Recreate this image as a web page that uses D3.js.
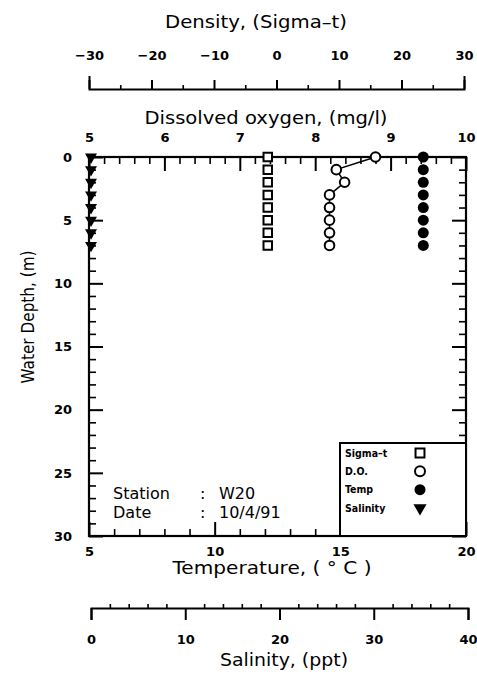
<!DOCTYPE html>
<html>
<head>
<meta charset="utf-8">
<script src="https://cdn.jsdelivr.net/npm/d3@7"></script>
<style>
  html, body { margin: 0; padding: 0; background: #fff; }
  svg { display: block; }
  text { font-family: "DejaVu Sans", sans-serif; fill: #000; }
  .tick text { font-family: "DejaVu Sans", sans-serif; font-weight: bold; font-size: 13px; fill: #000; }
  .tick line, .domain { stroke: #000; }
</style>
</head>
<body>
<script>
// ---- data ----
const depth            = [0, 1, 2, 3, 4, 5, 6, 7];
const sigmaT           = [-1.4, -1.4, -1.4, -1.4, -1.4, -1.4, -1.4, -1.4];
const dissolvedOxygen  = [8.80, 8.28, 8.39, 8.19, 8.19, 8.19, 8.19, 8.19];
const temperature      = [18.3, 18.3, 18.3, 18.3, 18.3, 18.3, 18.3, 18.3];
const salinity         = [0, 0, 0, 0, 0, 0, 0, 0];

const depthTicks   = [0, 5, 10, 15, 20, 25, 30];
const doTicks      = [5, 6, 7, 8, 9, 10];
const tempTicks    = [5, 10, 15, 20];
const sigmaTicks   = [-30, -20, -10, 0, 10, 20, 30];
const salTicks     = [0, 10, 20, 30, 40];
const legendLabels = ["Sigma-t", "D.O.", "Temp", "Salinity"];
const station = "W20";
const dateStr = "10/4/91";

// ---- layout ----
const W = 477, H = 677;
const L = 89, R = 466, T = 157, B = 536;

const svg = d3.select("body").append("svg").attr("width", W).attr("height", H);

const y     = d3.scaleLinear().domain([0, 30]).range([T, B]);
const xDO   = d3.scaleLinear().domain([5, 10]).range([L, R]);
const xT    = d3.scaleLinear().domain([5, 20]).range([L, R]);
const xSig  = d3.scaleLinear().domain([-30, 30]).range([L, R - 2]);
const xSal  = d3.scaleLinear().domain([0, 40]).range([L + 2, R + 2]);

function styleAxis(g, w) {
  g.selectAll(".tick line").attr("stroke-width", w);
  g.selectAll(".domain").attr("stroke-width", 2).attr("fill", "none");
}

// ---- plot frame axes ----
// top (dissolved oxygen)
const gTop = svg.append("g").attr("transform", `translate(0,${T})`);
gTop.call(d3.axisTop(xDO).tickValues(doTicks).tickSize(-14).tickSizeOuter(0).tickPadding(15).tickFormat(d3.format("d")));
gTop.select(".domain").remove();
styleAxis(gTop, 2);
const gTopMin = svg.append("g").attr("transform", `translate(0,${T})`);
gTopMin.call(d3.axisTop(xDO).tickValues(d3.range(5, 10.001, 0.2).filter(v => Math.abs(v - Math.round(v)) > 0.01)).tickSize(-7).tickFormat(""));
gTopMin.select(".domain").remove();
styleAxis(gTopMin, 1.6);

// left (depth)
const gLeft = svg.append("g").attr("transform", `translate(${L},0)`);
gLeft.call(d3.axisLeft(y).tickValues(depthTicks).tickSize(-14).tickPadding(17).tickFormat(d3.format("d")));
gLeft.select(".domain").remove();
styleAxis(gLeft, 2);
const gLeftMin = svg.append("g").attr("transform", `translate(${L},0)`);
gLeftMin.call(d3.axisLeft(y).tickValues(d3.range(0, 31).filter(v => v % 5)).tickSize(-7).tickFormat(""));
gLeftMin.select(".domain").remove();
styleAxis(gLeftMin, 1.6);

// right
const gRight = svg.append("g").attr("transform", `translate(${R},0)`);
gRight.call(d3.axisRight(y).tickValues(depthTicks).tickSize(-14).tickFormat(""));
gRight.select(".domain").remove();
styleAxis(gRight, 2);
const gRightMin = svg.append("g").attr("transform", `translate(${R},0)`);
gRightMin.call(d3.axisRight(y).tickValues(d3.range(0, 31).filter(v => v % 5)).tickSize(-7).tickFormat(""));
gRightMin.select(".domain").remove();
styleAxis(gRightMin, 1.6);

// bottom (temperature)
const gBot = svg.append("g").attr("transform", `translate(0,${B})`);
gBot.call(d3.axisBottom(xT).tickValues(tempTicks).tickSize(-14).tickPadding(11).tickFormat(d3.format("d")));
gBot.select(".domain").remove();
styleAxis(gBot, 2);
const gBotMin = svg.append("g").attr("transform", `translate(0,${B})`);
gBotMin.call(d3.axisBottom(xT).tickValues(d3.range(5, 21).filter(v => v % 5)).tickSize(-7).tickFormat(""));
gBotMin.select(".domain").remove();
styleAxis(gBotMin, 1.6);

// frame
svg.append("rect").attr("x", L).attr("y", T).attr("width", R - L).attr("height", B - T)
  .attr("fill", "none").attr("stroke", "#000").attr("stroke-width", 2.2);

// ---- density axis (top, detached) ----
const gSig = svg.append("g").attr("transform", `translate(0,89)`);
gSig.call(d3.axisTop(xSig).tickValues(sigmaTicks).tickSize(9).tickSizeOuter(13).tickPadding(20).tickFormat(d3.format("d")));
styleAxis(gSig, 2);
const gSigMin = svg.append("g").attr("transform", `translate(0,89)`);
gSigMin.call(d3.axisTop(xSig).tickValues([-25, -15, -5, 5, 15, 25]).tickSize(4).tickFormat(""));
gSigMin.select(".domain").remove();
styleAxis(gSigMin, 1.6);

// ---- salinity axis (bottom, detached) ----
const gSal = svg.append("g").attr("transform", `translate(0,608)`);
gSal.call(d3.axisBottom(xSal).tickValues(salTicks).tickSize(12).tickSizeOuter(12).tickPadding(15).tickFormat(d3.format("d")));
styleAxis(gSal, 2);
const gSalMin = svg.append("g").attr("transform", `translate(0,608)`);
gSalMin.call(d3.axisTop(xSal).tickValues(d3.range(2, 40, 2).filter(v => v % 10)).tickSize(4).tickFormat(""));
gSalMin.select(".domain").remove();
styleAxis(gSalMin, 1.6);

// ---- titles ----
function title(txt, x, yy, len, rot) {
  const t = svg.append("text").attr("text-anchor", "middle").attr("font-size", 17)
    .attr("textLength", len).attr("lengthAdjust", "spacingAndGlyphs").text(txt);
  if (rot) t.attr("transform", `translate(${x},${yy}) rotate(-90)`);
  else t.attr("x", x).attr("y", yy);
}
title("Density, (Sigma\u2013t)", 256, 28, 182);
title("Dissolved oxygen, (mg/l)", 266, 124, 243);
title("Temperature, ( \u00b0 C )", 272, 574, 199);
title("Salinity, (ppt)", 284, 666, 128);
title("Water Depth, (m)", 34, 317, 133, true);

// ---- data marks ----
const rows = depth.map((d, i) => ({ d, s: sigmaT[i], o: dissolvedOxygen[i], t: temperature[i], sal: salinity[i] }));

// D.O. line
svg.append("path").datum(rows)
  .attr("d", d3.line().x(r => xDO(r.o)).y(r => y(r.d)))
  .attr("fill", "none").attr("stroke", "#000").attr("stroke-width", 1.5);

const sq = d3.symbol().type(d3.symbolSquare).size(72);
const tri = d3.symbol().type(d3.symbolTriangle).size(62);

svg.append("g").selectAll("path").data(rows).join("path")
  .attr("transform", r => `translate(${xSig(r.s)},${y(r.d)})`)
  .attr("d", sq).attr("fill", "#fff").attr("stroke", "#000").attr("stroke-width", 2);

svg.append("g").selectAll("circle").data(rows).join("circle")
  .attr("cx", r => xDO(r.o)).attr("cy", r => y(r.d)).attr("r", 4.8)
  .attr("fill", "#fff").attr("stroke", "#000").attr("stroke-width", 2);

svg.append("g").selectAll("circle").data(rows).join("circle")
  .attr("cx", r => xT(r.t)).attr("cy", r => y(r.d)).attr("r", 5.5)
  .attr("fill", "#000");

svg.append("g").selectAll("path").data(rows).join("path")
  .attr("transform", r => `translate(${xSal(r.sal)},${y(r.d)}) rotate(180)`)
  .attr("d", tri).attr("fill", "#000");

// ---- legend ----
const lg = svg.append("g");
lg.append("rect").attr("x", 340).attr("y", 443).attr("width", R - 340).attr("height", B - 443)
  .attr("fill", "#fff").attr("stroke", "#000").attr("stroke-width", 2);
const ly = d3.scalePoint().domain(legendLabels).range([453, 508]);
lg.selectAll("text").data(legendLabels).join("text")
  .attr("x", 345).attr("y", d => ly(d)).attr("dy", "0.35em")
  .attr("font-size", 10.5).attr("font-weight", "bold")
  .style("font-family", "'DejaVu Sans Condensed', 'DejaVu Sans', sans-serif")
  .text(d => d.replace("-", "\u2013"));
lg.append("path").attr("transform", `translate(420,${ly("Sigma-t")})`).attr("d", d3.symbol().type(d3.symbolSquare).size(80))
  .attr("fill", "#fff").attr("stroke", "#000").attr("stroke-width", 2);
lg.append("circle").attr("cx", 420).attr("cy", ly("D.O.")).attr("r", 5)
  .attr("fill", "#fff").attr("stroke", "#000").attr("stroke-width", 2);
lg.append("circle").attr("cx", 420).attr("cy", ly("Temp")).attr("r", 5.5).attr("fill", "#000");
lg.append("path").attr("transform", `translate(420,${ly("Salinity")}) rotate(180)`).attr("d", d3.symbol().type(d3.symbolTriangle).size(75))
  .attr("fill", "#000");

// ---- station/date annotation ----
const ann = [["Station", ":", station], ["Date", ":", dateStr]];
const ay = d3.scalePoint().domain([0, 1]).range([499, 518]);
ann.forEach((a, i) => {
  svg.append("text").attr("x", 113).attr("y", ay(i)).attr("font-size", 16).text(a[0]);
  svg.append("text").attr("x", 200).attr("y", ay(i)).attr("font-size", 16).text(a[1]);
  svg.append("text").attr("x", 219).attr("y", ay(i)).attr("font-size", 16).text(a[2]);
});
</script>
</body>
</html>
